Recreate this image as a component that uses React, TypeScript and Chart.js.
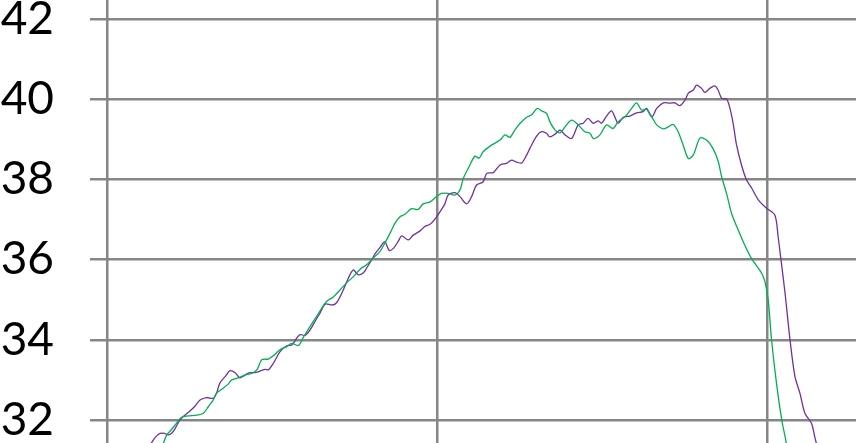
import React, { useEffect, useRef } from "react";
import { Chart, registerables } from "chart.js";

Chart.register(...registerables);

// Purple series (time, value)
const purpleX = [
  13.0, 13.7, 15.5, 17.1, 18.6, 19.6, 20.6, 22.1, 23.6, 25.2, 26.7, 28.2, 30.2, 32.2, 33.2, 34.2, 35.8, 37.3, 38.8, 40.3,
  41.8, 43.3, 44.8, 46.4, 47.9, 48.9, 50.4, 52.4, 54.5, 56.0, 57.5, 58.5, 60.0, 61.5, 63.0, 64.5, 66.1, 68.1, 69.1, 70.1,
  71.6, 73.1, 74.6, 76.2, 77.7, 78.7, 80.2, 81.2, 82.7, 84.2, 85.5, 86.8, 88.3, 89.3, 91.3, 92.8, 94.8, 96.4, 97.9, 99.4,
  100.9, 102.4, 103.4, 105.5, 107.0, 109.0, 110.5, 112.0, 114.0, 115.1, 117.1, 119.1, 121.1, 122.6, 124.2, 125.7, 127.2, 128.2, 130.2, 131.7,
  133.2, 134.2, 135.8, 137.3, 138.8, 140.8, 142.8, 144.3, 145.8, 147.4, 148.9, 149.9, 151.4, 152.9, 153.9, 154.9, 156.5, 158.5, 160.5, 162.5,
  163.5, 165.1, 166.6, 168.6, 170.6, 172.1, 173.6, 175.2, 176.2, 177.7, 178.7, 180.2, 181.2, 182.7, 184.2, 185.2, 186.3, 187.8, 188.8, 189.8,
  190.8, 192.3, 193.8, 195.4, 197.4, 199.9, 202.4, 203.4, 204.2, 205.5, 207.0, 208.5, 210.0, 211.5, 213.5, 214.5, 215.5,
];
const purpleY = [
  31.33, 31.46, 31.64, 31.67, 31.63, 31.67, 31.78, 32.0, 32.12, 32.23, 32.35, 32.5, 32.56, 32.54, 32.67, 32.92, 33.08, 33.23, 33.18, 33.05,
  33.12, 33.18, 33.18, 33.22, 33.26, 33.25, 33.41, 33.7, 33.85, 33.87, 34.04, 34.13, 34.11, 34.24, 34.45, 34.66, 34.89, 34.87, 34.89, 34.99,
  35.24, 35.53, 35.74, 35.62, 35.67, 35.79, 35.99, 36.14, 36.3, 36.45, 36.23, 36.28, 36.46, 36.59, 36.49, 36.61, 36.71, 36.83, 36.88, 37.01,
  37.19, 37.39, 37.61, 37.67, 37.57, 37.39, 37.57, 37.86, 37.94, 38.15, 38.17, 38.36, 38.4, 38.48, 38.43, 38.41, 38.61, 38.78, 39.08, 39.19,
  39.15, 39.06, 39.13, 39.23, 39.11, 39.02, 39.36, 39.4, 39.52, 39.4, 39.46, 39.4, 39.58, 39.71, 39.56, 39.4, 39.55, 39.58, 39.66, 39.69,
  39.77, 39.56, 39.77, 39.91, 39.9, 39.91, 39.84, 39.98, 40.15, 40.23, 40.35, 40.27, 40.17, 40.27, 40.33, 40.23, 40.02, 40.0, 39.77, 39.38,
  38.86, 38.36, 37.99, 37.78, 37.49, 37.28, 37.11, 36.57, 36.04, 35.16, 34.0, 33.08, 32.67, 32.17, 31.92, 31.58, 31.25,
];

// Green series (time, value)
const greenX = [
  16.1, 17.1, 18.1, 19.1, 21.1, 22.6, 24.6, 27.2, 29.2, 30.7, 32.2, 33.2, 35.2, 36.8, 37.8, 39.8, 41.8, 43.8, 45.4, 46.9,
  48.9, 50.4, 52.4, 54.5, 56.0, 58.0, 59.5, 61.5, 63.5, 65.1, 66.6, 68.6, 70.6, 72.6, 74.6, 76.7, 78.7, 80.7, 82.7, 84.2,
  85.8, 87.3, 88.8, 90.3, 92.3, 94.3, 95.8, 97.9, 99.9, 101.4, 103.4, 105.5, 107.0, 108.0, 110.0, 111.5, 112.8, 114.0, 116.1, 119.1,
  120.6, 122.1, 123.6, 125.2, 127.2, 128.7, 130.4, 131.7, 133.2, 134.2, 135.8, 137.3, 138.8, 140.8, 142.8, 144.8, 146.4, 147.4, 149.4, 151.4,
  153.4, 154.9, 157.0, 159.0, 160.5, 162.0, 163.5, 165.1, 166.6, 168.6, 170.1, 171.6, 173.1, 174.6, 176.2, 177.7, 179.7, 181.7, 183.7, 185.2,
  186.3, 187.8, 189.3, 191.3, 193.3, 195.4, 198.4, 199.4, 200.4, 201.4, 202.9, 204.5, 205.8, 206.7,
];
const greenY = [
  31.2, 31.42, 31.63, 31.72, 31.92, 32.07, 32.1, 32.12, 32.17, 32.33, 32.5, 32.67, 32.79, 32.9, 33.0, 33.05, 33.12, 33.16, 33.25, 33.5,
  33.52, 33.6, 33.75, 33.83, 33.91, 33.86, 34.06, 34.33, 34.58, 34.79, 34.96, 35.07, 35.24, 35.42, 35.57, 35.76, 35.87, 36.04, 36.2, 36.41,
  36.66, 36.91, 37.07, 37.13, 37.27, 37.25, 37.39, 37.44, 37.57, 37.65, 37.65, 37.61, 37.74, 38.03, 38.36, 38.58, 38.53, 38.69, 38.83, 38.98,
  39.11, 39.05, 39.23, 39.4, 39.55, 39.61, 39.77, 39.71, 39.65, 39.44, 39.23, 39.16, 39.31, 39.48, 39.36, 39.19, 39.15, 39.02, 39.11, 39.36,
  39.27, 39.44, 39.56, 39.77, 39.91, 39.73, 39.75, 39.56, 39.36, 39.26, 39.31, 39.37, 39.19, 38.86, 38.52, 38.61, 39.03, 38.98, 38.76, 38.46,
  38.06, 37.64, 37.15, 36.74, 36.36, 36.02, 35.66, 35.45, 34.99, 34.0, 32.92, 32.0, 31.46, 31.0,
];

const yTicks = [32, 34, 36, 38, 40, 42];
const xTicks = [0, 100, 200];

export default function App() {
  const ref = useRef<HTMLCanvasElement | null>(null);

  useEffect(() => {
    if (!ref.current) return;
    const grid = "#868686";
    const noPad = (s: any) => {
      s.paddingTop = 0;
      s.paddingBottom = 0;
      s.paddingLeft = 0;
      s.paddingRight = 0;
    };
    const chart = new Chart(ref.current, {
      type: "line",
      data: {
        datasets: [
          {
            data: greenX.map((x, i) => ({ x, y: greenY[i] })),
            borderColor: "#00B050",
            borderWidth: 1.3,
            pointRadius: 0,
            tension: 0.3,
            fill: false,
          },
          {
            data: purpleX.map((x, i) => ({ x, y: purpleY[i] })),
            borderColor: "#7030A0",
            borderWidth: 1.3,
            pointRadius: 0,
            tension: 0.3,
            fill: false,
          },
        ],
      },
      options: {
        responsive: false,
        animation: false,
        devicePixelRatio: 1,
        layout: { padding: 0 },
        plugins: { legend: { display: false }, tooltip: { enabled: false } },
        scales: {
          x: {
            type: "linear",
            min: 0,
            max: 227,
            afterBuildTicks: (s: any) => {
              s.ticks = xTicks.map((v) => ({ value: v }));
            },
            afterFit: (s: any) => {
              s.height = 0;
              noPad(s);
            },
            ticks: { display: false },
            grid: { color: grid, lineWidth: 2.5, drawTicks: false },
            border: { display: false },
          },
          y: {
            type: "linear",
            min: 31.426,
            max: 42.474,
            afterBuildTicks: (s: any) => {
              s.ticks = yTicks.map((v) => ({ value: v }));
            },
            afterFit: (s: any) => {
              s.width = 107;
              noPad(s);
            },
            ticks: {
              font: { family: "Lato", size: 46 },
              color: "#000000",
              padding: 36,
            },
            grid: { color: grid, lineWidth: 2.5, tickLength: 17 },
            border: { display: false },
          },
        },
      },
    });
    return () => chart.destroy();
  }, []);

  return (
    <div style={{ position: "fixed", left: 0, top: 0, width: 856, height: 443, overflow: "hidden", background: "#fff" }}>
      <canvas ref={ref} width={856} height={443} style={{ display: "block" }} />
    </div>
  );
}
